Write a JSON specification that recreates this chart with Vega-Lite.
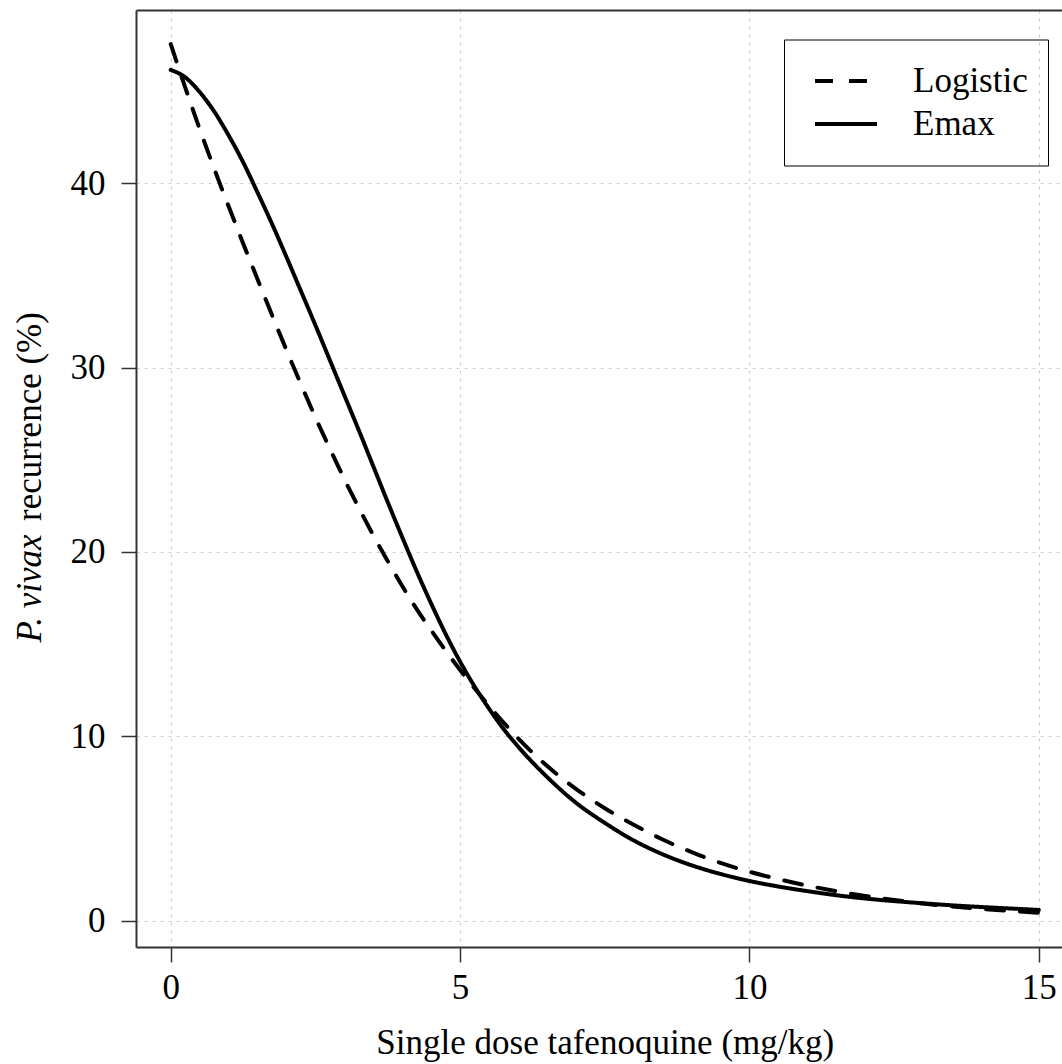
{
  "$schema": "https://vega.github.io/schema/vega-lite/v6.json",
  "width": 926,
  "height": 937,
  "autosize": "none",
  "padding": {"left": 136, "top": 10, "right": 0, "bottom": 117},
  "background": "white",
  "config": {
    "view": {"stroke": null},
    "font": "'Liberation Serif', 'Times New Roman', Tinos, 'DejaVu Serif', serif",
    "axis": {
      "domainColor": "#333333",
      "domainWidth": 2,
      "tickColor": "#333333",
      "tickWidth": 1.5,
      "tickSize": 15,
      "labelFont": "'Liberation Serif', 'Times New Roman', Tinos, 'DejaVu Serif', serif",
      "labelFontSize": 35,
      "labelColor": "black",
      "titleFont": "'Liberation Serif', 'Times New Roman', Tinos, 'DejaVu Serif', serif",
      "titleFontSize": 35,
      "titleFontWeight": "normal",
      "titleColor": "black",
      "gridColor": "#cccccc",
      "gridDash": [3, 5],
      "gridWidth": 1.2
    },
    "legend": {
      "orient": "none",
      "legendX": 648,
      "legendY": 29.5,
      "strokeColor": "black",
      "padding": 20,
      "symbolType": "stroke",
      "symbolSize": 3844,
      "symbolStrokeWidth": 4,
      "symbolStrokeColor": "black",
      "symbolOffset": 9,
      "labelOffset": 34,
      "labelFont": "'Liberation Serif', 'Times New Roman', Tinos, 'DejaVu Serif', serif",
      "labelFontSize": 35,
      "labelColor": "black",
      "labelLimit": 0
    }
  },
  "data": {
    "values": [
      {"dose": 0, "model": "Logistic", "recurrence": 47.55},
      {"dose": 0.25, "model": "Logistic", "recurrence": 45.2},
      {"dose": 0.5, "model": "Logistic", "recurrence": 42.95},
      {"dose": 0.75, "model": "Logistic", "recurrence": 40.8},
      {"dose": 1.0, "model": "Logistic", "recurrence": 38.75},
      {"dose": 1.25, "model": "Logistic", "recurrence": 36.75},
      {"dose": 1.5, "model": "Logistic", "recurrence": 34.8},
      {"dose": 1.75, "model": "Logistic", "recurrence": 32.85},
      {"dose": 2.0, "model": "Logistic", "recurrence": 30.95},
      {"dose": 2.25, "model": "Logistic", "recurrence": 29.1},
      {"dose": 2.5, "model": "Logistic", "recurrence": 27.3},
      {"dose": 2.75, "model": "Logistic", "recurrence": 25.6},
      {"dose": 3.0, "model": "Logistic", "recurrence": 23.95},
      {"dose": 3.25, "model": "Logistic", "recurrence": 22.4},
      {"dose": 3.5, "model": "Logistic", "recurrence": 20.9},
      {"dose": 3.75, "model": "Logistic", "recurrence": 19.5},
      {"dose": 4.0, "model": "Logistic", "recurrence": 18.15},
      {"dose": 4.25, "model": "Logistic", "recurrence": 16.9},
      {"dose": 4.5, "model": "Logistic", "recurrence": 15.75},
      {"dose": 4.75, "model": "Logistic", "recurrence": 14.65},
      {"dose": 5.0, "model": "Logistic", "recurrence": 13.6},
      {"dose": 5.25, "model": "Logistic", "recurrence": 12.6},
      {"dose": 5.5, "model": "Logistic", "recurrence": 11.65},
      {"dose": 5.75, "model": "Logistic", "recurrence": 10.75},
      {"dose": 6.0, "model": "Logistic", "recurrence": 9.9},
      {"dose": 6.5, "model": "Logistic", "recurrence": 8.4},
      {"dose": 7.0, "model": "Logistic", "recurrence": 7.15},
      {"dose": 7.5, "model": "Logistic", "recurrence": 6.1},
      {"dose": 8.0, "model": "Logistic", "recurrence": 5.2},
      {"dose": 8.5, "model": "Logistic", "recurrence": 4.4},
      {"dose": 9.0, "model": "Logistic", "recurrence": 3.72},
      {"dose": 9.5, "model": "Logistic", "recurrence": 3.13},
      {"dose": 10.0, "model": "Logistic", "recurrence": 2.65},
      {"dose": 10.5, "model": "Logistic", "recurrence": 2.25},
      {"dose": 11.0, "model": "Logistic", "recurrence": 1.9},
      {"dose": 11.5, "model": "Logistic", "recurrence": 1.6},
      {"dose": 12.0, "model": "Logistic", "recurrence": 1.34},
      {"dose": 12.5, "model": "Logistic", "recurrence": 1.12},
      {"dose": 13.0, "model": "Logistic", "recurrence": 0.93},
      {"dose": 13.5, "model": "Logistic", "recurrence": 0.77},
      {"dose": 14.0, "model": "Logistic", "recurrence": 0.64},
      {"dose": 14.5, "model": "Logistic", "recurrence": 0.53},
      {"dose": 15.0, "model": "Logistic", "recurrence": 0.43},
      {"dose": 0, "model": "Emax", "recurrence": 46.15},
      {"dose": 0.25, "model": "Emax", "recurrence": 45.75},
      {"dose": 0.5, "model": "Emax", "recurrence": 44.95},
      {"dose": 0.75, "model": "Emax", "recurrence": 43.9},
      {"dose": 1.0, "model": "Emax", "recurrence": 42.6},
      {"dose": 1.25, "model": "Emax", "recurrence": 41.15},
      {"dose": 1.5, "model": "Emax", "recurrence": 39.5},
      {"dose": 1.75, "model": "Emax", "recurrence": 37.8},
      {"dose": 2.0, "model": "Emax", "recurrence": 36.0},
      {"dose": 2.25, "model": "Emax", "recurrence": 34.15},
      {"dose": 2.5, "model": "Emax", "recurrence": 32.3},
      {"dose": 2.75, "model": "Emax", "recurrence": 30.4},
      {"dose": 3.0, "model": "Emax", "recurrence": 28.5},
      {"dose": 3.25, "model": "Emax", "recurrence": 26.6},
      {"dose": 3.5, "model": "Emax", "recurrence": 24.65},
      {"dose": 3.75, "model": "Emax", "recurrence": 22.7},
      {"dose": 4.0, "model": "Emax", "recurrence": 20.8},
      {"dose": 4.25, "model": "Emax", "recurrence": 18.95},
      {"dose": 4.5, "model": "Emax", "recurrence": 17.2},
      {"dose": 4.75, "model": "Emax", "recurrence": 15.55},
      {"dose": 5.0, "model": "Emax", "recurrence": 14.05},
      {"dose": 5.25, "model": "Emax", "recurrence": 12.7},
      {"dose": 5.5, "model": "Emax", "recurrence": 11.5},
      {"dose": 5.75, "model": "Emax", "recurrence": 10.4},
      {"dose": 6.0, "model": "Emax", "recurrence": 9.45},
      {"dose": 6.5, "model": "Emax", "recurrence": 7.8},
      {"dose": 7.0, "model": "Emax", "recurrence": 6.4},
      {"dose": 7.5, "model": "Emax", "recurrence": 5.3},
      {"dose": 8.0, "model": "Emax", "recurrence": 4.35},
      {"dose": 8.5, "model": "Emax", "recurrence": 3.6},
      {"dose": 9.0, "model": "Emax", "recurrence": 3.0},
      {"dose": 9.5, "model": "Emax", "recurrence": 2.53},
      {"dose": 10.0, "model": "Emax", "recurrence": 2.15},
      {"dose": 10.5, "model": "Emax", "recurrence": 1.85},
      {"dose": 11.0, "model": "Emax", "recurrence": 1.6},
      {"dose": 11.5, "model": "Emax", "recurrence": 1.38},
      {"dose": 12.0, "model": "Emax", "recurrence": 1.2},
      {"dose": 12.5, "model": "Emax", "recurrence": 1.06},
      {"dose": 13.0, "model": "Emax", "recurrence": 0.94},
      {"dose": 13.5, "model": "Emax", "recurrence": 0.83},
      {"dose": 14.0, "model": "Emax", "recurrence": 0.74},
      {"dose": 14.5, "model": "Emax", "recurrence": 0.66},
      {"dose": 15.0, "model": "Emax", "recurrence": 0.58}
    ]
  },
  "layer": [
    {
      "mark": {"type": "line", "interpolate": "monotone", "strokeWidth": 4, "color": "black", "strokeCap": "round"},
      "encoding": {
        "x": {
          "field": "dose", "type": "quantitative",
          "scale": {"domain": [-0.6, 15.4], "nice": false, "zero": false},
          "axis": {
            "orient": "bottom", "values": [0, 5, 10, 15], "labelPadding": 8, "labelAngle": 0,
            "title": "Single dose tafenoquine (mg/kg)",
            "titleX": 468.75, "titleY": 106, "titleAlign": "center", "titleBaseline": "alphabetic"
          }
        },
        "y": {
          "field": "recurrence", "type": "quantitative",
          "scale": {"domain": [-1.43, 49.4], "nice": false, "zero": false},
          "axis": {
            "orient": "left", "values": [0, 10, 20, 30, 40], "labelPadding": 16, "labelAngle": 0,
            "labelAlign": "right", "labelBaseline": "middle",
            "title": "recurrence (%)", "titleAngle": -90,
            "titleX": -96, "titleY": 406, "titleAlign": "center", "titleBaseline": "alphabetic"
          }
        },
        "strokeDash": {
          "field": "model", "type": "nominal",
          "scale": {"domain": ["Logistic", "Emax"], "range": [[18, 16], [1, 0]]},
          "legend": {"title": null, "clipHeight": 43, "rowPadding": 0}
        }
      }
    },
    {
      "mark": {"type": "line", "opacity": 0},
      "encoding": {
        "x": {
          "field": "dose", "type": "quantitative",
          "scale": {"domain": [-0.6, 15.4], "nice": false, "zero": false},
          "axis": {"orient": "top", "labels": false, "ticks": false, "grid": false, "title": null, "domain": true}
        },
        "y": {
          "field": "recurrence", "type": "quantitative",
          "scale": {"domain": [-1.43, 49.4], "nice": false, "zero": false},
          "axis": {
            "orient": "left", "labels": false, "ticks": false, "grid": false, "domain": false,
            "title": "P. vivax", "titleFontStyle": "italic", "titleAngle": -90,
            "titleX": -96, "titleY": 578, "titleAlign": "center", "titleBaseline": "alphabetic"
          }
        },
        "detail": {"field": "model", "type": "nominal"}
      }
    }
  ],
  "resolve": {"axis": {"x": "independent", "y": "independent"}}
}
